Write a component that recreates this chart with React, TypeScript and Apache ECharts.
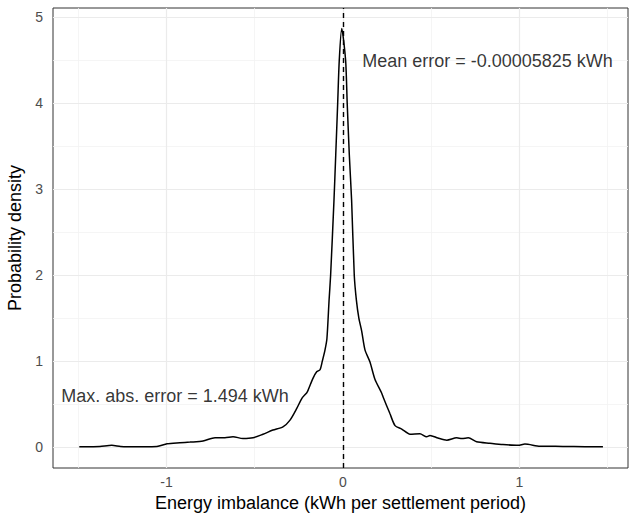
import React, { useEffect, useRef } from "react";
import * as echarts from "echarts";

// Density curve points: [energy imbalance (kWh), probability density]
const densityX = [
  -1.494, -1.42, -1.377, -1.31, -1.26, -1.207, -1.13, -1.054, -0.997, -0.924, -0.867,
  -0.793, -0.725, -0.669, -0.623, -0.567, -0.51, -0.453, -0.397, -0.34, -0.3,
  -0.261, -0.232, -0.206, -0.198, -0.17, -0.149, -0.13, -0.117, -0.102,
  -0.091, -0.079, -0.07, -0.051, -0.041, -0.03, -0.021, -0.007, 0.015, 0.024,
  0.036, 0.049, 0.064, 0.076, 0.09, 0.106, 0.125, 0.153, 0.181, 0.219, 0.228, 0.266,
  0.295, 0.333, 0.38, 0.436, 0.474, 0.493, 0.538, 0.588, 0.644, 0.674, 0.71,
  0.757, 0.833, 0.906, 0.992, 1.031, 1.116, 1.246, 1.371, 1.473,
];
const densityY = [
  0.003, 0.004, 0.006, 0.02, 0.008, 0.005, 0.004, 0.006, 0.038, 0.05, 0.058,
  0.07, 0.11, 0.11, 0.12, 0.1, 0.108, 0.15, 0.198, 0.236, 0.314,
  0.453, 0.57, 0.63, 0.66, 0.8, 0.876, 0.9, 1.0, 1.128,
  1.26, 1.7, 2.0, 2.87, 3.4, 4.0, 4.5, 4.87, 4.5, 4.0,
  3.4, 2.87, 2.0, 1.71, 1.5, 1.35, 1.128, 0.99, 0.79, 0.63, 0.58, 0.39,
  0.25, 0.21, 0.15, 0.155, 0.12, 0.135, 0.105, 0.08, 0.108, 0.1, 0.108,
  0.062, 0.045, 0.03, 0.02, 0.035, 0.01, 0.008, 0.005, 0.004,
];

const meanError = -0.00005825;
const xTicks = [-1, 0, 1];
const xMinor = [-1.5, -0.5, 0.5, 1.5];
const yTicks = [0, 1, 2, 3, 4, 5];
const yMinor = [0.5, 1.5, 2.5, 3.5, 4.5];

const noteTexts = ["Mean error = -0.00005825 kWh", "Max. abs. error = 1.494 kWh"];
const noteX = [0.819, -0.952];
const noteY = [4.488, 0.593];

const xTitle = "Energy imbalance (kWh per settlement period)";
const yTitle = "Probability density";

const FONT = "'Liberation Sans', Arial, Helvetica, sans-serif";

export default function App() {
  const ref = useRef<HTMLDivElement>(null);

  useEffect(() => {
    if (!ref.current) return;
    const chart = echarts.init(ref.current, undefined, { renderer: "svg" });

    const gridLines: any[] = [];
    xMinor.forEach((v) =>
      gridLines.push({ xAxis: v, lineStyle: { color: "#f2f2f2", width: 0.8, type: "solid" } })
    );
    yMinor.forEach((v) =>
      gridLines.push({ yAxis: v, lineStyle: { color: "#f2f2f2", width: 0.8, type: "solid" } })
    );
    xTicks.forEach((v) =>
      gridLines.push({ xAxis: v, lineStyle: { color: "#ebebeb", width: 1.2, type: "solid" } })
    );
    yTicks.forEach((v) =>
      gridLines.push({ yAxis: v, lineStyle: { color: "#ebebeb", width: 1.2, type: "solid" } })
    );

    const lineData = densityX.map((x, i) => [x, densityY[i]]);
    const noteData = noteTexts.map((t, i) => [noteX[i], noteY[i], t]);

    chart.setOption({
      animation: false,
      backgroundColor: "#ffffff",
      textStyle: { fontFamily: FONT },
      grid: {
        left: 53,
        top: 8,
        width: 575,
        height: 460,
        show: true,
        backgroundColor: "#ffffff",
        borderColor: "#333333",
        borderWidth: 1,
        containLabel: false,
        outerBoundsMode: "none",
      },
      xAxis: {
        type: "value",
        min: -1.643,
        max: 1.615,
        name: xTitle,
        nameLocation: "middle",
        nameGap: 24,
        nameTextStyle: { fontSize: 18, color: "#000000", fontFamily: FONT },
        axisLine: { show: false },
        splitLine: { show: false },
        axisTick: {
          show: true,
          length: 4,
          customValues: xTicks,
          lineStyle: { color: "#333333", width: 1 },
        },
        axisLabel: {
          show: true,
          customValues: xTicks,
          color: "#4d4d4d",
          fontSize: 14,
          margin: 7,
          fontFamily: FONT,
        },
      },
      yAxis: {
        type: "value",
        min: -0.2435,
        max: 5.11,
        name: yTitle,
        nameLocation: "middle",
        nameGap: 22,
        nameRotate: 90,
        nameTextStyle: { fontSize: 18, color: "#000000", fontFamily: FONT },
        axisLine: { show: false },
        splitLine: { show: false },
        axisTick: {
          show: true,
          length: 4,
          customValues: yTicks,
          lineStyle: { color: "#333333", width: 1 },
        },
        axisLabel: {
          show: true,
          customValues: yTicks,
          color: "#4d4d4d",
          fontSize: 14,
          margin: 10,
          fontFamily: FONT,
        },
      },
      series: [
        {
          type: "line",
          data: [],
          z: 1,
          silent: true,
          markLine: {
            silent: true,
            symbol: ["none", "none"],
            label: { show: false },
            z: 1,
            data: gridLines,
          },
        },
        {
          type: "line",
          data: lineData,
          z: 5,
          showSymbol: false,
          smooth: 0.25,
          lineStyle: { color: "#000000", width: 1.5 },
          markLine: {
            silent: true,
            symbol: ["none", "none"],
            label: { show: false },
            z: 6,
            data: [{ xAxis: meanError }],
            lineStyle: { color: "#000000", width: 1.4, type: [5, 4] },
          },
        },
        {
          type: "scatter",
          data: noteData,
          symbolSize: 0,
          z: 7,
          silent: true,
          label: {
            show: true,
            position: "inside",
            formatter: (p: any) => p.data[2],
            color: "#000000",
            fontSize: 18,
            fontFamily: FONT,
          },
        },
      ],
    });

    return () => chart.dispose();
  }, []);

  return (
    <div
      ref={ref}
      style={{ position: "fixed", left: 0, top: 0, width: 636, height: 514 }}
    />
  );
}
